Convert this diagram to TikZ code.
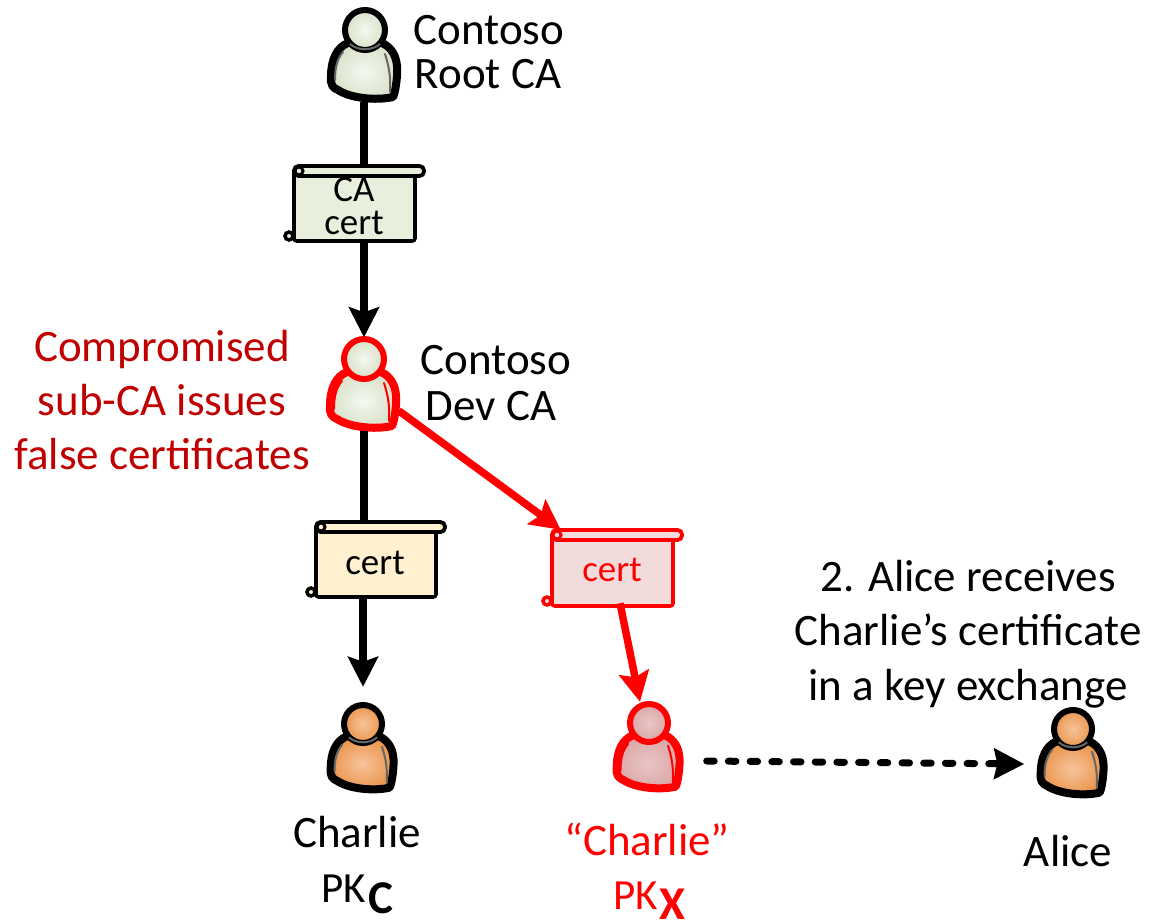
\documentclass[tikz,border=0pt]{standalone}
\usepackage{fontspec}
\setmainfont{Carlito}
\usetikzlibrary{arrows.meta}
\definecolor{grnA}{HTML}{F5F8F1}\definecolor{grnB}{HTML}{D8E1C8}
\definecolor{orgA}{HTML}{F7C39B}\definecolor{orgB}{HTML}{EA954C}
\definecolor{redA}{HTML}{EAC6C6}\definecolor{redB}{HTML}{DBA6A6}
\definecolor{certG}{HTML}{E9EFDD}\definecolor{certY}{HTML}{FFF1CF}\definecolor{certR}{HTML}{F2DCDB}
\definecolor{darkred}{HTML}{C00000}\definecolor{purered}{HTML}{FF0000}
\definecolor{seam}{HTML}{666666}
\tikzset{
  lab/.style={inner sep=0pt,font=\fontsize{45}{45}\selectfont},
  certtext/.style={inner sep=0pt,font=\fontsize{37}{33}\selectfont,align=center},
  pk/.style={inner sep=0pt,font=\fontsize{43}{43}\selectfont},
  pkb/.style={inner sep=0pt,font=\fontsize{47}{47}\selectfont\bfseries},
  slot/.style={inner sep=0pt,draw=none,fill=none},
  conn/.style={line width=7.5pt,-{Stealth[length=30pt,width=30pt,inset=5pt]}},
  plain/.style={line width=7.5pt},
}
% person: #1 head x, #2 head y, #3 scale, #4 outline, #5 inner, #6 outer, #7 seam colour
\newcommand{\persondraw}[7]{%
  \begin{scope}[shift={(#1,#2)},scale=#3]
    \path[shading=radial,inner color=#5,outer color=#6,draw=#4,line width=8pt,line join=round]
      (-17,13) .. controls (-28,17) and (-34,30) .. (-34,46)
      .. controls (-35,55) and (-32,58) .. (-27,60)
      .. controls (-15,68) and (10,71) .. (28,67)
      .. controls (31,62) and (33,40) .. (32,36)
      .. controls (31,25) and (26,17) .. (17,13) -- cycle;
    \draw[#7,line width=2pt,line cap=round] (-30,50) .. controls (-30,38) and (-28,29) .. (-22,22);
    \draw[#7,line width=2pt,line cap=round] (20,24) .. controls (24,36) and (26,48) .. (25,62);
    \path[shading=radial,inner color=#5,outer color=#6,draw=#4,line width=6pt] (0,0) circle (20);
    \draw[#7,line width=2pt] (-15,14) .. controls (-7,21) and (7,21) .. (15,14);
  \end{scope}}
% scroll: #1 left, #2 top, #3 right, #4 bottom, #5 line, #6 fill
\newcommand{\scrolldraw}[6]{%
  \draw[#5,fill=#6,line width=3.8pt,rounded corners=3pt]
    (#1,#2+6) -- (#1,#4) -- (#3,#4) -- (#3,#2+6);
  \fill[#6] (#1+2,#2+8) rectangle (#3-2,#4-2);
  \draw[#5,fill=#6,line width=3.8pt,rounded corners=4.5pt]
    (#1,#2) rectangle (#3+9,#2+10);
  \draw[#5,fill=#6,line width=3pt] (#1+5,#2+5) circle (4);
  \draw[#5,fill=#6,line width=3.5pt] (#1-5,#4-5) circle (4);
}
\begin{document}
\begin{tikzpicture}[x=1pt,y=-1pt]
\useasboundingbox (0,0) rectangle (1150,920);
% persons
\persondraw{365}{30}{1}{black}{grnA}{grnB}{seam}
\persondraw{364}{359}{1}{purered}{grnA}{grnB}{purered}
\persondraw{363}{724}{.95}{black}{orgA}{orgB}{seam}
\persondraw{649}{723}{.95}{purered}{redA}{redB}{purered}
\persondraw{1073}{729}{.95}{black}{orgA}{orgB}{seam}
\node[slot,minimum width=73pt,minimum height=93pt] (root) at (364,55) {};
\node[slot,minimum width=73pt,minimum height=93pt] (dev) at (364,384) {};
\node[slot,minimum width=73pt,minimum height=90pt] (charlie) at (363,747) {};
\node[slot,minimum width=73pt,minimum height=90pt] (fake) at (649,747) {};
\node[slot,minimum width=73pt,minimum height=90pt] (alice) at (1071,755) {};
% certificates
\scrolldraw{294}{166}{415}{241}{black}{certG}
\scrolldraw{316}{522}{436}{597}{black}{certY}
\scrolldraw{552}{530}{673}{606}{purered}{certR}
\node[slot,minimum width=121pt,minimum height=75pt] (cA) at (354.5,203.5) {};
\node[slot,minimum width=120pt,minimum height=75pt] (cB) at (376,559.5) {};
\node[slot,minimum width=121pt,minimum height=76pt] (cC) at (612.5,568) {};
\node[certtext] (tA) at (354,206) {CA\\cert};
\node[certtext,anchor=base] (tB) at (375,574) {cert};
\node[certtext,anchor=base,text=purered] (tC) at (612,581) {cert};
% connectors
\draw[plain] (root.south) -- ([xshift=9.5pt]cA.north);
\draw[conn] ([xshift=9.5pt]cA.south) -- (dev.north);
\draw[plain] (dev.south) -- ([xshift=-12pt]cB.north);
\draw[conn] ([xshift=-13pt]cB.south) -- ([yshift=15pt]charlie.north);
\draw[conn,purered] ([xshift=-2pt,yshift=20pt]dev.south east) -- ([xshift=9pt]cC.north west);
\draw[conn,purered] ([xshift=7.5pt,yshift=3pt]cC.south) -- ([xshift=-9pt]fake.north);
\draw[line width=7pt,line cap=round,dash pattern=on 7.5pt off 14.2pt,-{Stealth[length=30pt,width=30pt,inset=3pt]}]
  ([xshift=21pt,yshift=-14pt]fake.east) -- ([xshift=-10pt,yshift=-9pt]alice.west);
% labels
\node[lab,anchor=base] (l1) at (489,45) {Contoso};
\node[lab,anchor=base] (l2) at (488,89) {Root CA};
\node[lab,anchor=base] (l3) at (496,374) {Contoso};
\node[lab,anchor=base] (l4) at (491,420) {Dev CA};
\node[lab,anchor=base,text=darkred] (r1) at (162,361) {Compromised};
\node[lab,anchor=base,text=darkred] (r2) at (162,415) {sub-CA issues};
\node[lab,anchor=base,text=darkred] (r3) at (162,469) {false certificates};
\node[lab,anchor=base] (c1) at (357,847) {Charlie};
\node[pk,anchor=base] (c2) at (344,902) {PK};
\node[pkb,anchor=base] (c3) at (381,913) {C};
\node[lab,anchor=base,text=purered] (f1) at (647,855) {“Charlie”};
\node[pk,anchor=base,text=purered] (f2) at (636,909) {PK};
\node[pkb,anchor=base,text=purered] (f3) at (672,919) {X};
\node[lab,anchor=base] (a1) at (1068,866) {Alice};
\node[lab,anchor=base] (m1) at (968,591) {2. Alice receives};
\node[lab,anchor=base] (m2) at (968,645) {Charlie’s certificate};
\node[lab,anchor=base] (m3) at (968,700) {in a key exchange};
\end{tikzpicture}
\end{document}
